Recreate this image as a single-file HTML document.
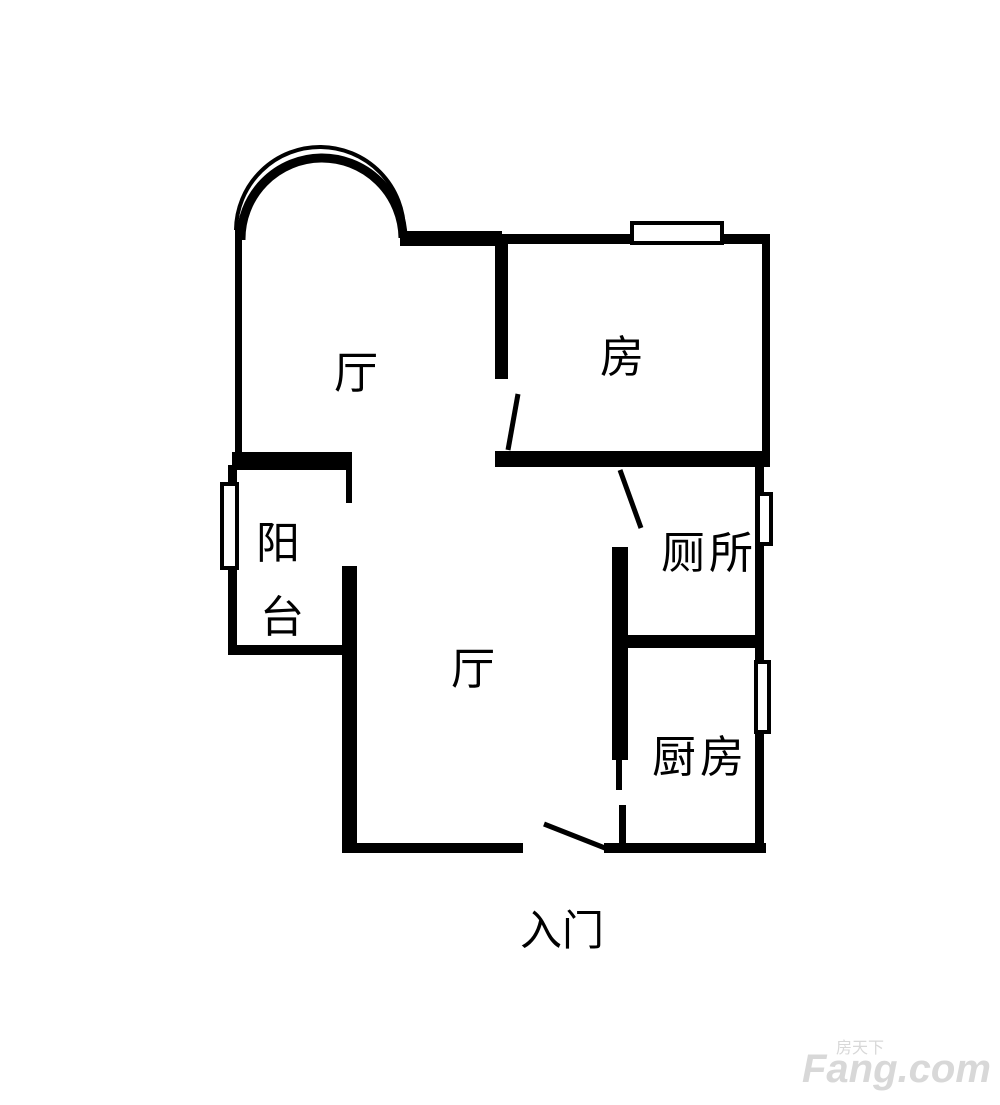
<!DOCTYPE html>
<html><head><meta charset="utf-8"><style>
body{margin:0;background:#fff;}
svg{display:block}
text{font-family:"Liberation Sans","Noto Sans CJK SC",sans-serif;fill:#000;}
</style></head><body>
<svg width="1000" height="1105" viewBox="0 0 1000 1105" xmlns="http://www.w3.org/2000/svg">
<g fill="#000">
<rect x="235" y="220" width="7" height="248"/>
<rect x="400" y="231" width="102" height="15"/>
<rect x="500" y="234" width="270" height="10"/>
<rect x="762" y="234" width="8" height="228"/>
<rect x="495" y="244" width="13" height="135"/>
<rect x="495" y="451" width="275" height="16"/>
<rect x="232" y="452" width="120" height="18"/>
<rect x="346" y="468" width="6" height="35"/>
<rect x="228" y="465" width="9" height="190"/>
<rect x="228" y="645" width="115" height="10"/>
<rect x="342" y="566" width="15" height="287"/>
<rect x="347" y="843" width="176" height="10"/>
<rect x="604" y="843" width="162" height="10"/>
<rect x="755" y="460" width="9" height="393"/>
<rect x="612" y="547" width="16" height="213"/>
<rect x="616" y="758" width="6" height="32"/>
<rect x="619" y="805" width="7" height="40"/>
<rect x="622" y="635" width="140" height="13"/>
</g>
<path d="M236 230 A84 84 0 0 1 404 232" fill="none" stroke="#000" stroke-width="4"/>
<path d="M241 240 A80 80 0 0 1 403 238" fill="none" stroke="#000" stroke-width="9"/>
<rect x="632" y="223" width="90" height="20" fill="#fff" stroke="#000" stroke-width="4"/>
<rect x="222" y="484" width="15" height="84" fill="#fff" stroke="#000" stroke-width="4"/>
<rect x="758" y="494" width="13" height="50" fill="#fff" stroke="#000" stroke-width="4"/>
<rect x="756" y="662" width="13" height="70" fill="#fff" stroke="#000" stroke-width="4"/>
<g stroke="#000" stroke-width="5" fill="none">
<line x1="518" y1="394" x2="508" y2="450"/>
<line x1="620" y1="470" x2="641" y2="528"/>
<line x1="544" y1="824" x2="610" y2="850"/>
</g>
<g font-size="44">
<text x="334" y="388">厅</text>
<text x="600" y="372">房</text>
<text x="256" y="558">阳</text>
<text x="260" y="632">台</text>
<text x="451" y="684">厅</text>
<text x="661" y="568">厕</text><text x="709" y="568">所</text>
<text x="652" y="772">厨</text><text x="700" y="772">房</text>
<text x="520" y="945" font-size="42">入门</text>
</g>
<text x="802" y="1082" font-size="40" font-weight="bold" style="fill:#d8d8d8" font-style="italic">Fang.com</text>
<text x="836" y="1053" font-size="16" style="fill:#d8d8d8">房天下</text>
</svg>
</body></html>
